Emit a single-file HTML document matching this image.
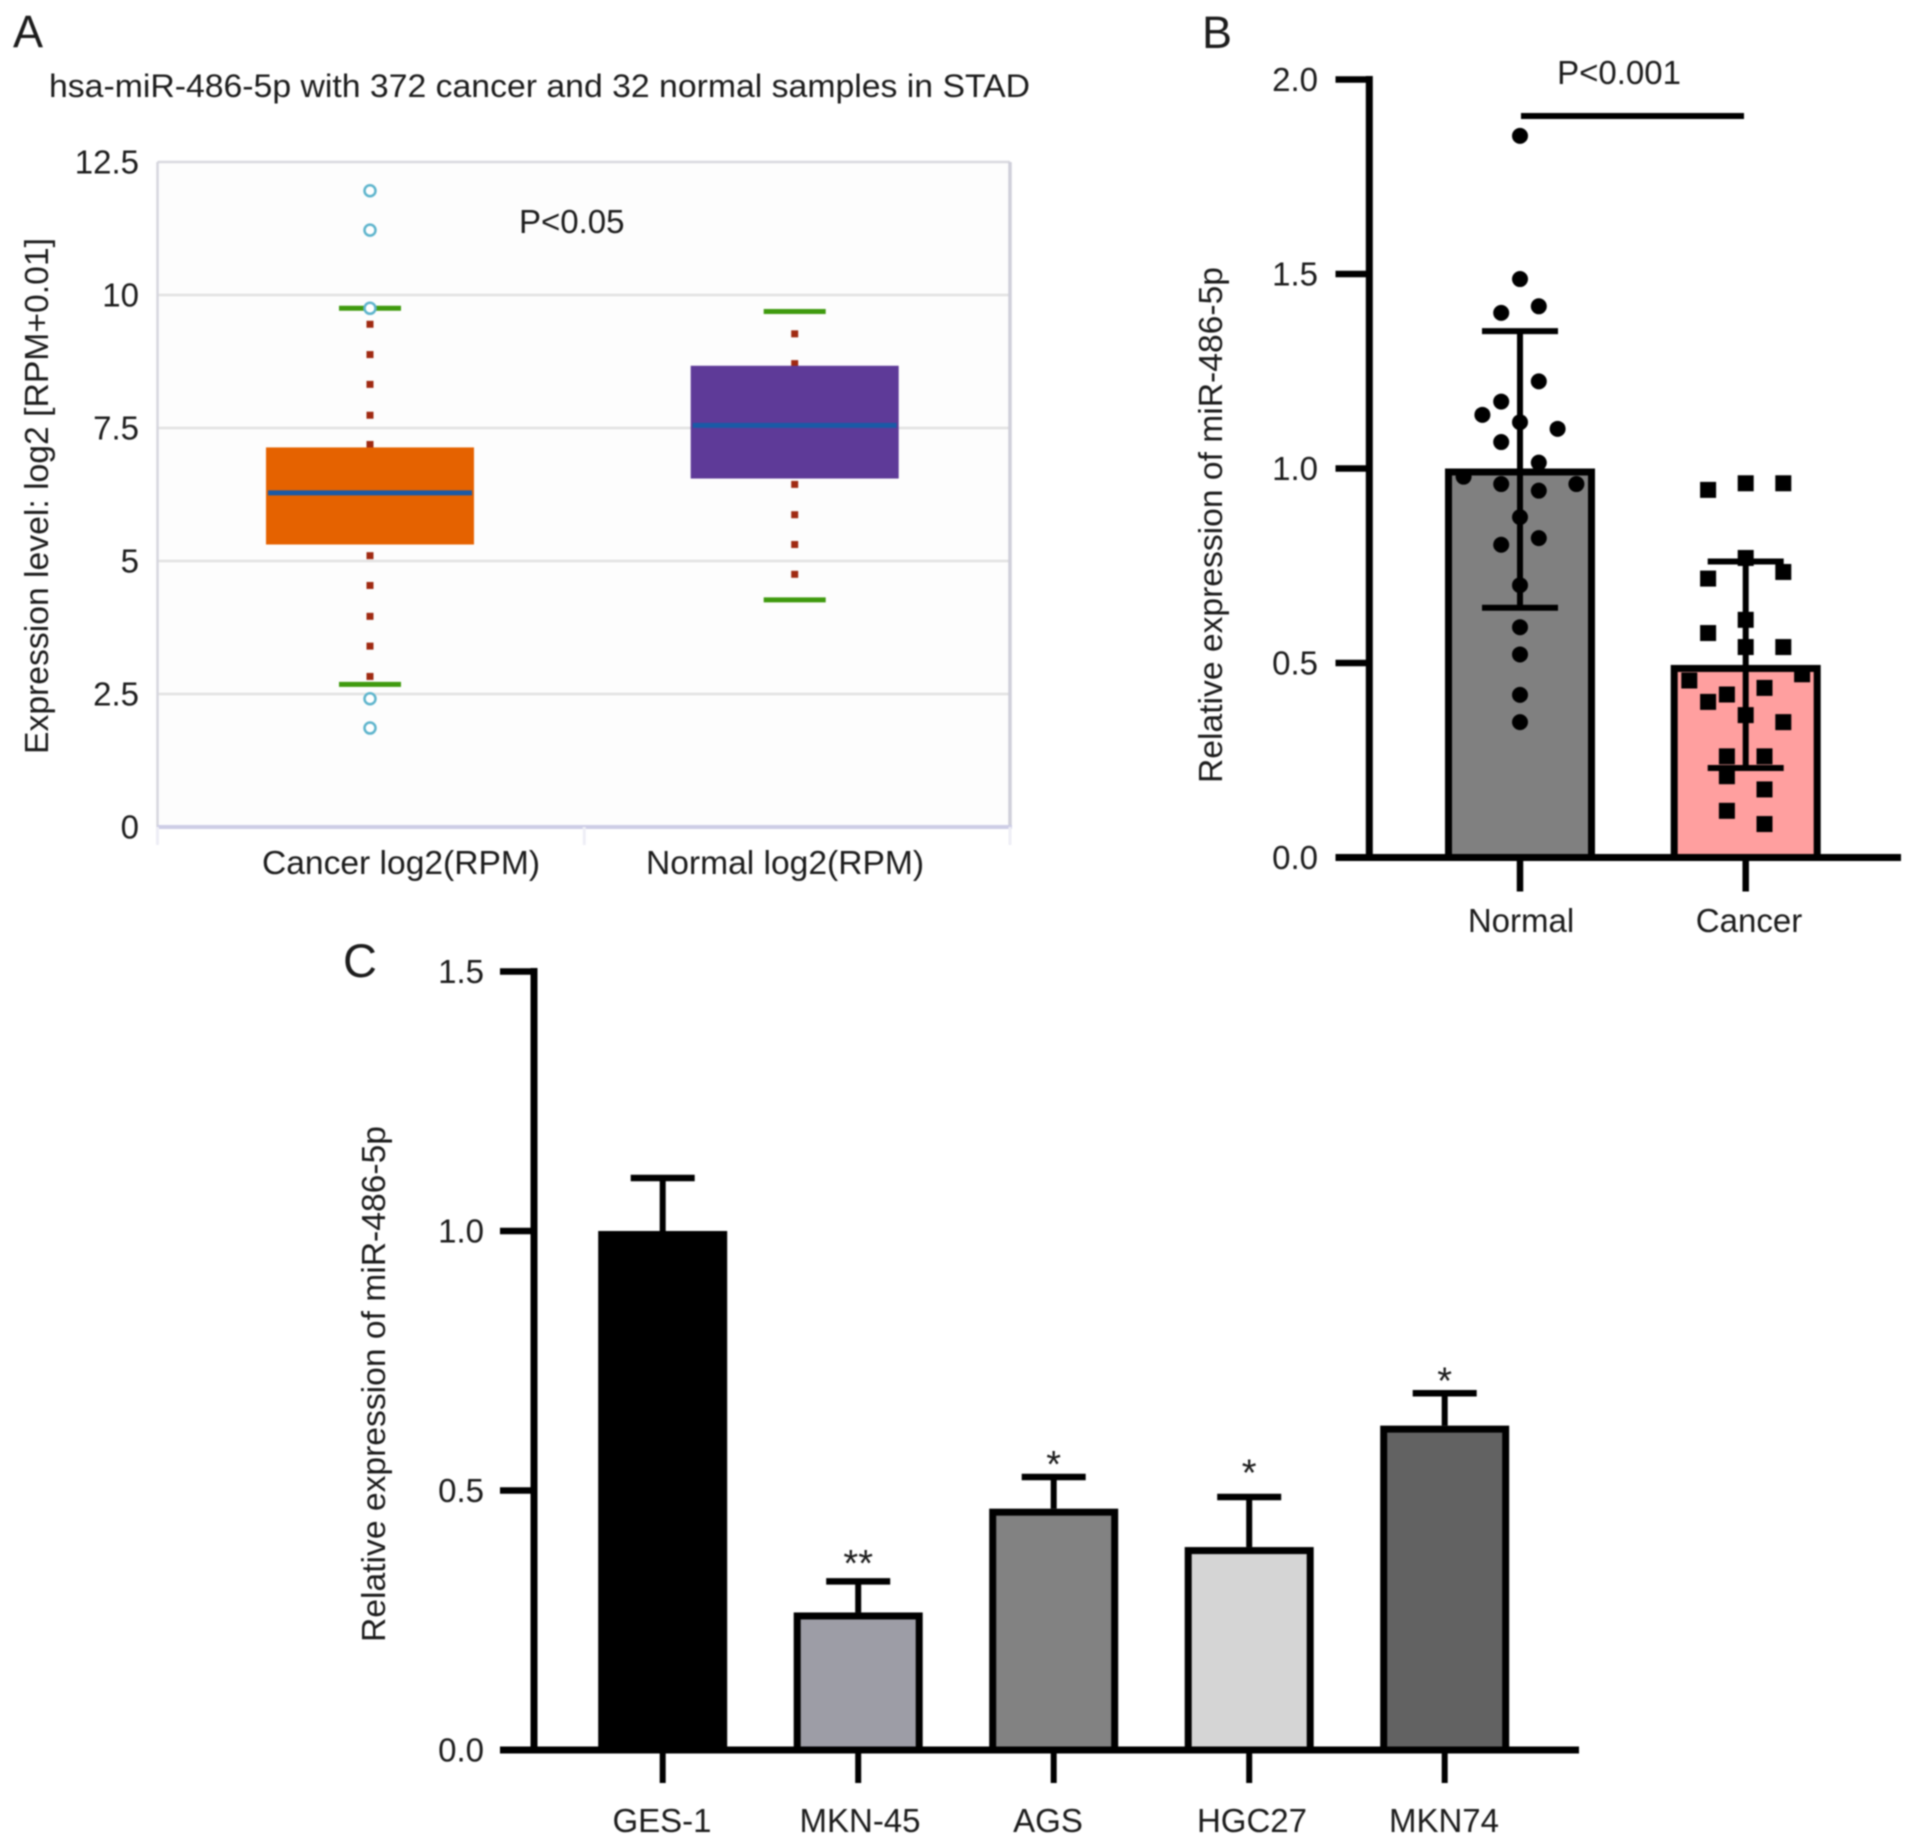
<!DOCTYPE html>
<html lang="en">
<head>
<meta charset="utf-8">
<title>miR-486-5p expression figure</title>
<style>
html,body{margin:0;padding:0;background:#fff;}
svg{display:block;}
text{font-family:"Liberation Sans",sans-serif;fill:#1c1c1c;}
</style>
</head>
<body>
<svg id="fig" xmlns="http://www.w3.org/2000/svg" width="1913" height="1843" viewBox="0 0 1913 1843" style="filter:blur(0.8px)"></svg>
<script>
/* ---------- Panel A data ---------- */
const aCategories = ['Cancer log2(RPM)', 'Normal log2(RPM)'];
const aTicks = [0, 2.5, 5, 7.5, 10, 12.5];
const aTickLabels = ['0', '2.5', '5', '7.5', '10', '12.5'];
const aQ1 = [5.31, 6.55];
const aMedian = [6.28, 7.55];
const aQ3 = [7.135, 8.67];
const aWhiskerLow = [2.68, 4.27];
const aWhiskerHigh = [9.75, 9.69];
const aCancerDots = [9.45, 8.88, 8.32, 7.74, 7.19, 5.10, 4.54, 3.96, 3.40, 2.83];
const aNormalDots = [9.27, 8.71, 6.44, 5.87, 5.31, 4.75];
const aCancerOutliers = [11.96, 11.22, 9.75, 2.41, 1.86];

/* ---------- Panel B data ---------- */
const bCategories = ['Normal', 'Cancer'];
const bTicks = [0, 0.5, 1, 1.5, 2];
const bTickLabels = ['0.0', '0.5', '1.0', '1.5', '2.0'];
const bMeans = [1.0, 0.495];
const bErrHigh = [1.353, 0.761];
const bErrLow = [0.642, 0.23];
const bNormalValues = [1.855, 1.487, 1.40, 1.417, 1.224, 1.172, 1.138, 1.119, 1.102, 1.068, 1.015, 0.979, 0.960, 0.943, 0.960, 0.875, 0.804, 0.821, 0.70, 0.592, 0.522, 0.418, 0.348];
const bNormalSlots = [0, 0, -1, 1, 1, -1, -2, 0, 2, -1, 1, -3, -1, 1, 3, 0, -1, 1, 0, 0, 0, 0, 0];
const bCancerValues = [0.945, 0.962, 0.962, 0.77, 0.717, 0.734, 0.611, 0.577, 0.541, 0.541, 0.455, 0.471, 0.419, 0.436, 0.40, 0.366, 0.348, 0.26, 0.26, 0.209, 0.175, 0.12, 0.086];
const bCancerSlots = [-2, 0, 2, 0, -2, 2, 0, -2, 0, 2, -3, 3, -1, 1, -2, 0, 2, -1, 1, -1, 1, -1, 1];

/* ---------- Panel C data ---------- */
const cCategories = ['GES-1', 'MKN-45', 'AGS', 'HGC27', 'MKN74'];
const cTicks = [0, 0.5, 1, 1.5];
const cTickLabels = ['0.0', '0.5', '1.0', '1.5'];
const cMeans = [1.0, 0.265, 0.465, 0.391, 0.625];
const cErrHigh = [1.102, 0.325, 0.526, 0.4875, 0.6875];
const cStars = ['', '**', '*', '*', '*'];
const cStarLevels = [0, 0.378, 0.568, 0.552, 0.729];

/* ---------- helpers ---------- */
const svg = document.getElementById('fig');
const NS = 'http://www.w3.org/2000/svg';
function mk(tag, props, parent) {
  const n = document.createElementNS(NS, tag);
  for (const k in props) n.setAttribute(k, props[k]);
  (parent || svg).appendChild(n);
  return n;
}
function label(str, x, y, size, anchor, parent) {
  const n = mk('text', {x: x, y: y, 'font-size': size, 'text-anchor': anchor}, parent);
  n.textContent = str;
  return n;
}
let el;

/* ---------- Panel A ---------- */
const aY = v => 827 - v * 53.2;
const aX = i => 370 + i * 424.7;
const aBoxW = 208, aCapW = 62;
const aLeft = 157.5, aRight = 1010;

el = label('A', 13, 47, 45, 'start');



el = label('hsa-miR-486-5p with 372 cancer and 32 normal samples in STAD', 49, 97, 32, 'start');
el.setAttribute('textLength', '981');
el.setAttribute('lengthAdjust', 'spacingAndGlyphs');



el = mk('rect', {x: aLeft, y: aY(12.5), width: aRight - aLeft, height: aY(0) - aY(12.5), fill: '#fdfdfd', stroke: 'none'});



aTicks.forEach((t, i) => {
  if (t > 0) {
    el = mk('line', {x1: aLeft, x2: aRight, y1: aY(t), y2: aY(t), stroke: t === 12.5 ? '#d9d9df' : '#e2e2e2', 'stroke-width': 2.5});
    
    
  }
  el = label(aTickLabels[i], 139, aY(t) + 11.5, 33, 'end');
  
  
});

el = mk('line', {x1: aLeft, x2: aLeft, y1: aY(12.5), y2: aY(0), stroke: '#d6d6de', 'stroke-width': 2.5});


el = mk('line', {x1: aRight, x2: aRight, y1: aY(12.5), y2: aY(0), stroke: '#cfcfda', 'stroke-width': 3.5});


el = mk('line', {x1: aLeft, x2: aRight + 2, y1: aY(0), y2: aY(0), stroke: '#cdcde6', 'stroke-width': 4});


[aLeft, (aLeft + aRight) / 2 + 0.5, aRight].forEach(x => {
  el = mk('line', {x1: x, x2: x, y1: aY(0), y2: aY(0) + 18, stroke: '#eeeef6', 'stroke-width': 3});
  
  
});

el = label('Expression level: log2 [RPM+0.01]', 0, 0, 33, 'middle');
el.setAttribute('transform', 'translate(48 496) rotate(-90)');
el.setAttribute('textLength', '516');
el.setAttribute('lengthAdjust', 'spacingAndGlyphs');



el = label('P<0.05', 519, 233, 33, 'start');



[aCancerDots, aNormalDots].forEach((dots, i) => {
  dots.forEach(v => {
    el = mk('rect', {x: aX(i) - 3.5, y: aY(v) - 3.5, width: 7, height: 7, fill: '#a02a12'});
    
    
  });
});

aCategories.forEach((c, i) => {
  el = mk('rect', {x: aX(i) - aBoxW / 2, y: aY(aQ3[i]), width: aBoxW, height: aY(aQ1[i]) - aY(aQ3[i]), fill: i === 0 ? '#e56200' : '#5e3a98'});
  
  
  el = mk('line', {x1: aX(i) - aBoxW / 2 + 2, x2: aX(i) + aBoxW / 2 - 2, y1: aY(aMedian[i]), y2: aY(aMedian[i]), stroke: '#1a5aa6', 'stroke-width': 5});
  
  
  [aWhiskerLow[i], aWhiskerHigh[i]].forEach(v => {
    el = mk('line', {x1: aX(i) - aCapW / 2, x2: aX(i) + aCapW / 2, y1: aY(v), y2: aY(v), stroke: '#3f9a0e', 'stroke-width': 5});
    
    
  });
  el = label(c, i === 0 ? 401 : 785, 874, 33, 'middle');
  el.setAttribute('textLength', '278');
  el.setAttribute('lengthAdjust', 'spacingAndGlyphs');
  
  
});

aCancerOutliers.forEach(v => {
  el = mk('circle', {cx: aX(0), cy: aY(v), r: 5.5, fill: '#fff', stroke: '#5db4cc', 'stroke-width': 2.5});
  
  
});

/* ---------- Panel B ---------- */
const bY = v => 857.5 - v * 389;
const bX = i => 1520 + i * 225.7;
const bBarW = 150, bCapW = 76, bSlot = 18.8, bStroke = 7;

el = label('B', 1202, 48, 45, 'start');



el = label('Relative expression of miR-486-5p', 0, 0, 33, 'middle');
el.setAttribute('transform', 'translate(1222 525) rotate(-90)');
el.setAttribute('textLength', '516');
el.setAttribute('lengthAdjust', 'spacingAndGlyphs');



bCategories.forEach((c, i) => {
  el = mk('rect', {x: bX(i) - bBarW / 2 + bStroke / 2, y: bY(bMeans[i]) + bStroke / 2, width: bBarW - bStroke, height: bY(0) - bY(bMeans[i]) - bStroke / 2, fill: i === 0 ? '#808080' : '#ff9f9f', stroke: '#000', 'stroke-width': bStroke});
  
  
});

bNormalValues.forEach((v, i) => {
  el = mk('circle', {cx: bX(0) + bNormalSlots[i] * bSlot, cy: bY(v), r: 8, fill: '#000'});
  
  
});
bCancerValues.forEach((v, i) => {
  el = mk('rect', {x: bX(1) + bCancerSlots[i] * bSlot - 8, y: bY(v) - 8, width: 16, height: 16, fill: '#000'});
  
  
});

bCategories.forEach((c, i) => {
  el = mk('line', {x1: bX(i), x2: bX(i), y1: bY(bErrLow[i]), y2: bY(bErrHigh[i]), stroke: '#000', 'stroke-width': 6});
  
  
  [bErrLow[i], bErrHigh[i]].forEach(v => {
    el = mk('line', {x1: bX(i) - bCapW / 2, x2: bX(i) + bCapW / 2, y1: bY(v), y2: bY(v), stroke: '#000', 'stroke-width': 6});
    
    
  });
  el = mk('line', {x1: bX(i), x2: bX(i), y1: bY(0), y2: bY(0) + 34, stroke: '#000', 'stroke-width': 6.5});
  
  
  el = label(c, i === 0 ? 1521 : 1749, 932, 33, 'middle');
  
  
});

el = mk('line', {x1: 1369.3, x2: 1369.3, y1: bY(2) - 3.5, y2: bY(0) + 3.5, stroke: '#000', 'stroke-width': 7});


el = mk('line', {x1: 1335.5, x2: 1901, y1: bY(0), y2: bY(0), stroke: '#000', 'stroke-width': 7});


bTicks.forEach((t, i) => {
  el = mk('line', {x1: 1335.5, x2: 1369, y1: bY(t), y2: bY(t), stroke: '#000', 'stroke-width': 6.5});
  
  
  el = label(bTickLabels[i], 1318, bY(t) + 11.5, 33, 'end');
  
  
});

el = mk('line', {x1: 1521, x2: 1744, y1: 116, y2: 116, stroke: '#000', 'stroke-width': 6});


el = label('P<0.001', 1619, 84, 33, 'middle');



/* ---------- Panel C ---------- */
const cY = v => 1750 - v * 519;
const cX = i => 662.7 + i * 195.5;
const cBarW = 129, cCapW = 64, cStroke = 7;
const cFills = ['#000000', '#9d9da6', '#828282', '#d5d5d5', '#626262'];
const cLabelX = [662, 860, 1048, 1252, 1444];

el = label('C', 343, 977, 47, 'start');



el = label('Relative expression of miR-486-5p', 0, 0, 33, 'middle');
el.setAttribute('transform', 'translate(385 1384) rotate(-90)');
el.setAttribute('textLength', '516');
el.setAttribute('lengthAdjust', 'spacingAndGlyphs');



cCategories.forEach((c, i) => {
  el = mk('line', {x1: cX(i), x2: cX(i), y1: cY(cMeans[i]), y2: cY(cErrHigh[i]), stroke: '#000', 'stroke-width': 6});
  
  
  el = mk('line', {x1: cX(i) - cCapW / 2, x2: cX(i) + cCapW / 2, y1: cY(cErrHigh[i]), y2: cY(cErrHigh[i]), stroke: '#000', 'stroke-width': 6.5});
  
  
  el = mk('rect', {x: cX(i) - cBarW / 2 + cStroke / 2, y: cY(cMeans[i]) + cStroke / 2, width: cBarW - cStroke, height: cY(0) - cY(cMeans[i]) - cStroke / 2, fill: cFills[i], stroke: '#000', 'stroke-width': cStroke});
  
  
  el = mk('line', {x1: cX(i), x2: cX(i), y1: cY(0), y2: cY(0) + 33, stroke: '#000', 'stroke-width': 6});
  
  
  el = label(c, cLabelX[i], 1832, 33, 'middle');
  
  
  if (cStars[i]) {
    el = label(cStars[i], cX(i), cY(cStarLevels[i]) + 22, 38, 'middle');
    
    
  }
});

el = mk('line', {x1: 534, x2: 534, y1: cY(1.5) - 3.5, y2: cY(0) + 3.5, stroke: '#000', 'stroke-width': 7});


el = mk('line', {x1: 500, x2: 1579, y1: cY(0), y2: cY(0), stroke: '#000', 'stroke-width': 7});


cTicks.forEach((t, i) => {
  el = mk('line', {x1: 500, x2: 534, y1: cY(t), y2: cY(t), stroke: '#000', 'stroke-width': 6.5});
  
  
  el = label(cTickLabels[i], 484, cY(t) + 11.5, 33, 'end');
  
  
});
</script>
</body>
</html>
